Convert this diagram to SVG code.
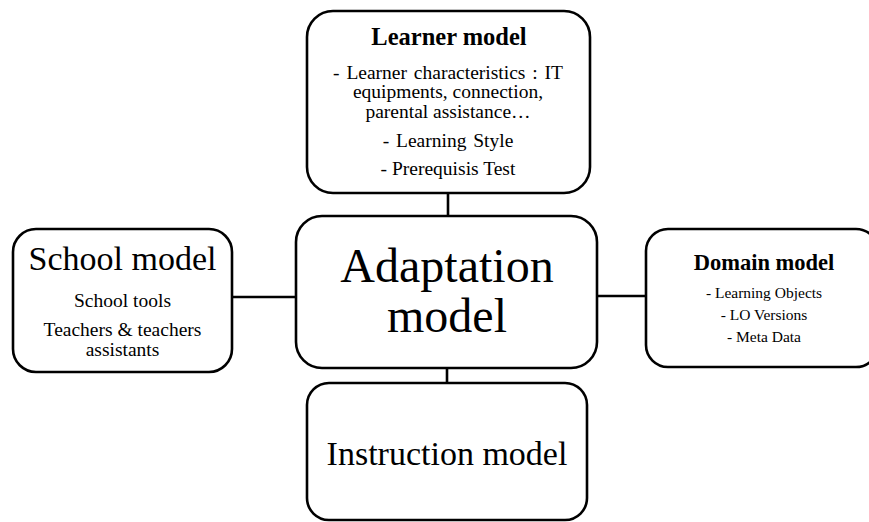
<svg xmlns="http://www.w3.org/2000/svg" width="869" height="522" viewBox="0 0 869 522">
  <style>
    .box { fill: #fff; stroke: #000; stroke-width: 2.6; }
    .link { stroke: #000; stroke-width: 2.6; fill: none; }
    text { font-family: "Liberation Serif", "Times New Roman", serif; fill: #000; text-anchor: middle; }
    .title { font-weight: bold; }
  </style>
  <rect width="869" height="522" fill="#fff"/>

  <!-- connectors -->
  <g id="connectors">
    <line class="link" x1="448" y1="193" x2="448" y2="216"/>
    <line class="link" x1="447" y1="368" x2="447" y2="383"/>
    <line class="link" x1="232" y1="297" x2="296" y2="297"/>
    <line class="link" x1="597" y1="296" x2="646" y2="296"/>
  </g>

  <g id="learner-model">
    <rect class="box" x="307" y="11" width="283" height="182" rx="26"/>
    <text class="title" x="449" y="45" font-size="24.5">Learner model</text>
    <text x="448" y="79" font-size="19.5" word-spacing="2">- Learner characteristics : IT</text>
    <text x="448" y="98" font-size="19.5">equipments, connection,</text>
    <text x="448" y="118" font-size="19.5">parental assistance…</text>
    <text x="448" y="147" font-size="19.5" word-spacing="2">- Learning Style</text>
    <text x="448" y="175" font-size="19.5">- Prerequisis Test</text>
  </g>

  <g id="school-model">
    <rect class="box" x="13" y="229" width="219" height="143" rx="23"/>
    <text x="122.5" y="270" font-size="34">School model</text>
    <text x="122.5" y="307" font-size="19.5">School tools</text>
    <text x="122.5" y="336" font-size="19.5">Teachers &amp; teachers</text>
    <text x="122.5" y="356" font-size="19.5">assistants</text>
  </g>

  <g id="adaptation-model">
    <rect class="box" x="296" y="216" width="301" height="152" rx="26"/>
    <text x="447" y="282" font-size="48">Adaptation</text>
    <text x="447" y="332" font-size="48">model</text>
  </g>

  <g id="domain-model">
    <rect class="box" x="646" y="229" width="232" height="138" rx="22"/>
    <text class="title" x="764" y="270" font-size="22.5">Domain model</text>
    <text x="764" y="298" font-size="15.5">- Learning Objects</text>
    <text x="764" y="320" font-size="15.5">- LO Versions</text>
    <text x="764" y="342" font-size="15.5">- Meta Data</text>
  </g>

  <g id="instruction-model">
    <rect class="box" x="307" y="383" width="280" height="137" rx="22"/>
    <text x="447" y="465" font-size="34">Instruction model</text>
  </g>
</svg>
